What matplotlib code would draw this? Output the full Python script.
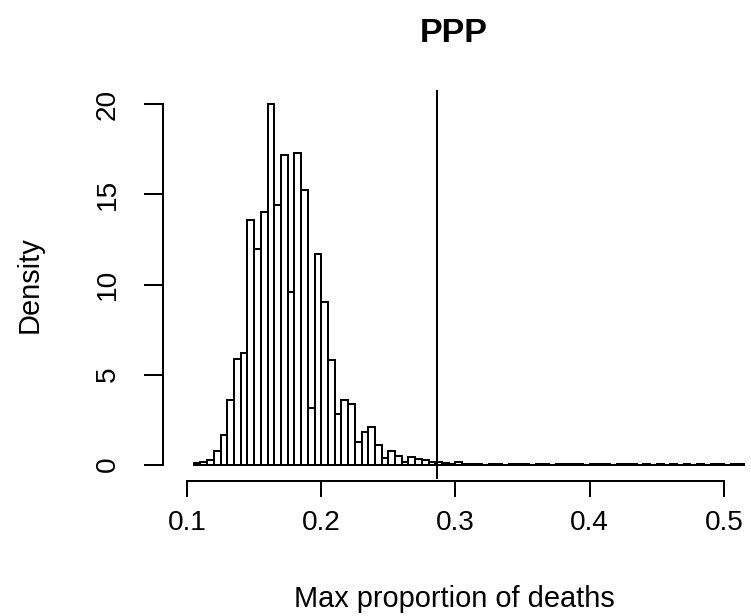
import matplotlib
matplotlib.use("Agg")
import matplotlib.pyplot as plt
import numpy as np

plt.rcParams['font.family'] = ['Liberation Sans', 'DejaVu Sans']

# Histogram data (density), bins of width 0.005 starting at 0.105
bin_start = 0.105
bin_width = 0.005
density = [
    0.10, 0.17, 0.28, 0.78, 1.63, 3.60, 5.87, 6.20, 13.57, 11.98,
    14.02, 20.02, 14.39, 17.20, 9.57, 17.29, 15.24, 3.13, 11.72, 9.02,
    5.83, 2.83, 3.59, 3.35, 1.26, 1.81, 2.06, 1.07, 0.35, 0.78,
    0.46, 0.17, 0.41, 0.33, 0.24, 0.15, 0.15, 0.10, 0.05, 0.12,
    0.05, 0.05, 0.03, 0.00, 0.03, 0.03, 0.00, 0.03, 0.03, 0.03,
    0.00, 0.03, 0.03, 0.00, 0.03, 0.03, 0.03, 0.03, 0.00, 0.03,
    0.03, 0.03, 0.00, 0.03, 0.03, 0.03, 0.00, 0.03, 0.00, 0.05,
    0.00, 0.03, 0.00, 0.05, 0.00, 0.03, 0.00, 0.05, 0.03, 0.00,
    0.05, 0.03, 0.03,
]
observed = 0.286
x_ticks = [0.1, 0.2, 0.3, 0.4, 0.5]
y_ticks = [0, 5, 10, 15, 20]
title = "PPP"
xlabel = "Max proportion of deaths"
ylabel = "Density"

W, H = 751, 616
dpi = 144
fig = plt.figure(figsize=(W / dpi, H / dpi), dpi=dpi)
left, right, bottom, top = 163, 745, 479, 90
ax = fig.add_axes([left / W, 1 - bottom / H, (right - left) / W, (bottom - top) / H])

edges = bin_start + bin_width * np.arange(len(density))
ax.bar(edges, density, width=bin_width, align='edge', facecolor='white',
       edgecolor='black', linewidth=1.0)
ax.axvline(observed, color='black', linewidth=1.0)

ax.set_xlim(0.0821, 0.5157)
ax.set_ylim(-0.8, 20.8)

for s in ['top', 'right']:
    ax.spines[s].set_visible(False)
ax.spines['left'].set_bounds(0, 20)
ax.spines['bottom'].set_bounds(0.1, 0.5)
ax.spines['bottom'].set_position(('outward', 1))
for s in ['left', 'bottom']:
    ax.spines[s].set_linewidth(1.0)

ax.set_xticks(x_ticks)
ax.set_xticklabels([f"{v:g}" for v in x_ticks], fontsize=14)
ax.set_yticks(y_ticks)
ax.set_yticklabels([str(v) for v in y_ticks], fontsize=14, rotation=90, va='center')
ax.tick_params(axis='x', length=8, width=1.0, pad=6.5)
ax.tick_params(axis='y', length=9.5, width=1.0, pad=11.5)

fig.text((left + right) / 2 / W, 1 - 34 / H, title, ha='center', va='center',
         fontsize=17, fontweight='bold')
fig.text((left + right) / 2 / W, 1 - 599 / H, xlabel, ha='center', va='center', fontsize=14.5)
fig.text(30 / W, 1 - 285 / H, ylabel, ha='center', va='center', fontsize=14.5, rotation=90)

fig.savefig("out.png", dpi=dpi)
